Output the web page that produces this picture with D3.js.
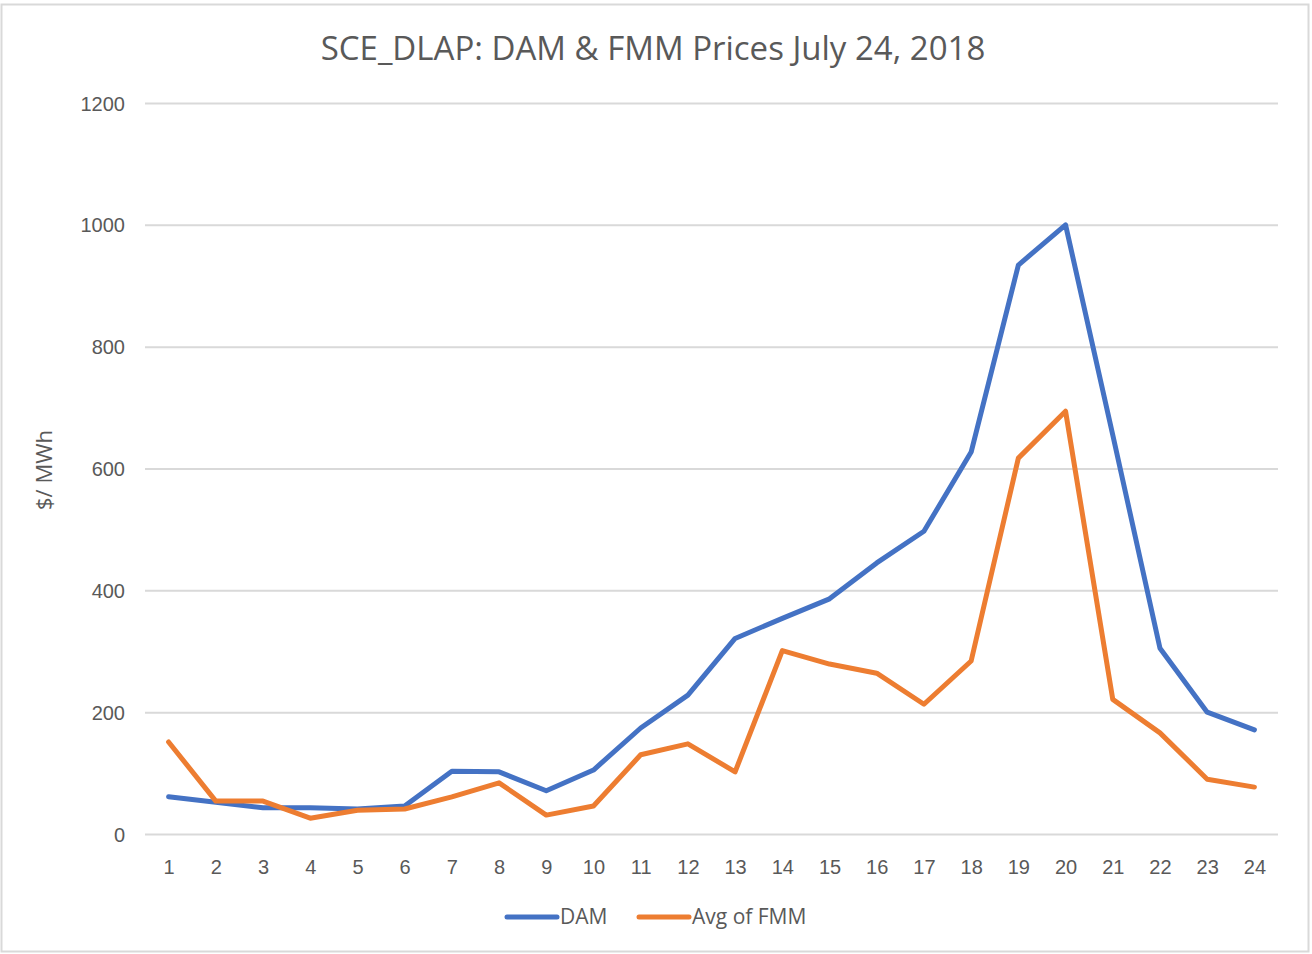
<!DOCTYPE html>
<html>
<head>
<meta charset="utf-8">
<script src="https://cdnjs.cloudflare.com/ajax/libs/d3/7.8.5/d3.min.js"></script>
<style>
  body { margin: 0; background: #fff; }
  svg { display: block; font-family: "Open Sans", "Noto Sans", sans-serif; }
</style>
</head>
<body>
<svg class="chart"></svg>
<script>
// hours and prices
let hours = d3.range(1, 25);
let dam = [61, 52, 43, 43, 41, 46, 103, 102, 71, 105, 174, 228, 321, 354, 386, 445, 497, 627, 934, 1000, 655, 305, 200, 171];
let fmm = [151, 54, 54, 26, 39, 41, 61, 84, 31, 46, 130, 148, 102, 301, 279, 264, 213, 284, 617, 694, 221, 166, 90, 77];
let yTicks = [0, 200, 400, 600, 800, 1000, 1200];
let seriesNames = ['DAM', 'Avg of FMM'];
let colors = ['#4472C4', '#ED7D31'];

let W = 1312, H = 954;
let margin = { top: 103, right: 34, bottom: 120, left: 145 };
let width = W - margin.left - margin.right;
let height = 834 - margin.top;

let svg = d3.select('.chart')
    .attr('width', W)
    .attr('height', H);

// outer border like the office chart frame
svg.append('rect')
    .attr('x', 1.5).attr('y', 4.5)
    .attr('width', W - 5).attr('height', H - 7)
    .attr('fill', 'none')
    .attr('stroke', '#d9d9d9')
    .attr('stroke-width', 2);

let x = d3.scalePoint()
    .domain(hours)
    .range([0, width])
    .padding(0.5);

let y = d3.scaleLinear()
    .domain([0, 1200])
    .range([height, 0]);

let g = svg.append('g')
    .attr('transform', 'translate(' + margin.left + ',' + margin.top + ')');

// gridlines + y labels
let yAxis = d3.axisLeft(y)
    .tickValues(yTicks)
    .tickFormat(d3.format('d'))
    .tickSize(-width)
    .tickPadding(20);

g.append('g')
    .attr('class', 'y-axis')
    .call(yAxis)
    .call(a => a.select('.domain').remove())
    .call(a => a.selectAll('line').attr('stroke', '#d9d9d9').attr('stroke-width', 2))
    .call(a => a.selectAll('text')
        .attr('fill', '#595959')
        .style('font-size', '20px')
        .attr('dy', '0.35em'));

let xAxis = d3.axisBottom(x)
    .tickSize(0)
    .tickPadding(22);

g.append('g')
    .attr('transform', 'translate(0,' + height + ')')
    .call(xAxis)
    .call(a => a.select('.domain').remove())
    .call(a => a.selectAll('text')
        .attr('fill', '#595959')
        .attr('dy', '0.9em')
        .style('font-size', '20px'));

let line = d3.line()
    .x((d, i) => x(hours[i]))
    .y(d => y(d));

[dam, fmm].forEach((s, i) => {
  g.append('path')
      .datum(s)
      .attr('fill', 'none')
      .attr('stroke', colors[i])
      .attr('stroke-width', 5)
      .attr('stroke-linejoin', 'round')
      .attr('stroke-linecap', 'round')
      .attr('d', line);
});

// title
svg.append('text')
    .attr('x', 653)
    .attr('y', 60)
    .attr('text-anchor', 'middle')
    .attr('fill', '#595959')
    .style('font-size', '33px')
    .text('SCE_DLAP: DAM & FMM Prices July 24, 2018');

// y axis title
svg.append('text')
    .attr('transform', 'translate(52,470) rotate(-90)')
    .attr('text-anchor', 'middle')
    .attr('fill', '#595959')
    .style('font-size', '22px')
    .text('$/ MWh');

// legend
let legendX = [505, 637];
seriesNames.forEach((n, i) => {
  let lg = svg.append('g').attr('transform', 'translate(' + legendX[i] + ',917)');
  lg.append('line')
      .attr('x1', 2).attr('x2', 52)
      .attr('stroke', colors[i])
      .attr('stroke-width', 5)
      .attr('stroke-linecap', 'round');
  lg.append('text')
      .attr('x', 55)
      .attr('dy', '0.35em')
      .attr('fill', '#595959')
      .style('font-size', '21px')
      .text(n);
});
</script>
</body>
</html>
